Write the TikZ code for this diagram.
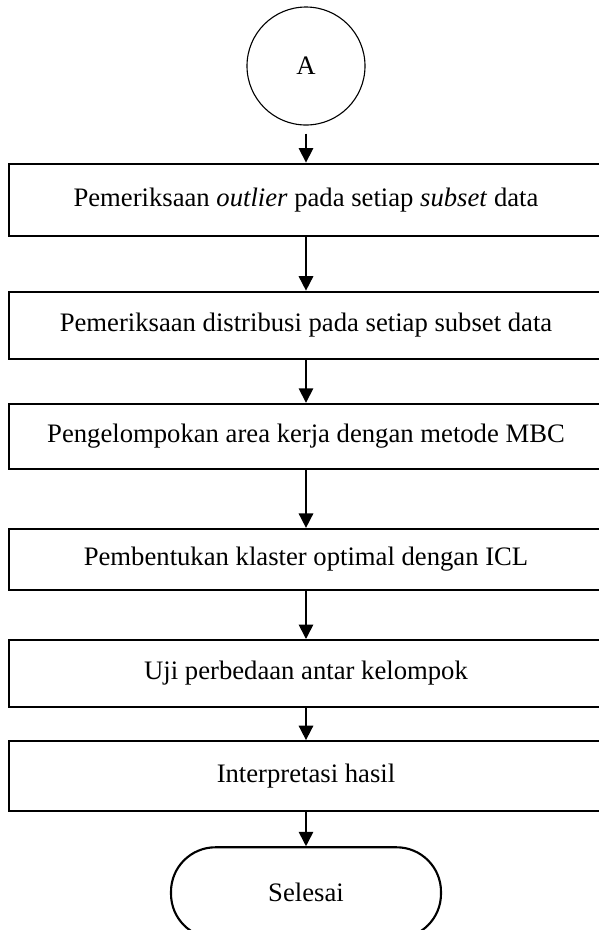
\documentclass[tikz,border=0pt]{standalone}
\usepackage{fontspec}
\setmainfont{Liberation Serif}
\usetikzlibrary{shapes.geometric, arrows.meta, positioning}

\begin{document}
\begin{tikzpicture}[node distance=18pt, font=\fontsize{12}{14}\selectfont]
    % Define styles
    \tikzstyle{connector} = [circle, minimum size=53.1pt, inner sep=0pt, draw=black, line width=0.5pt]
    \tikzstyle{process} = [rectangle, minimum width=267pt, text centered, draw=black, line width=0.95pt]
    \tikzstyle{terminal} = [rectangle, rounded corners=20pt, minimum width=121.5pt, minimum height=40.95pt, draw=black, line width=0.95pt]
    \tikzstyle{arrow} = [line width=0.75pt, -{Triangle[length=6.5pt,width=6.5pt]}]

    \useasboundingbox (0,0) rectangle (269.55pt,-418.5pt);

    % Nodes
    \node (conA) [connector] at (137.7pt,-29.7pt) {A};
    \node (outlier) [process, minimum height=32.4pt, below=16.65pt of conA] {Pemeriksaan \textit{outlier} pada setiap \textit{subset} data};
    \node (distribusi) [process, minimum height=30.15pt, below=24.3pt of outlier] {Pemeriksaan distribusi pada setiap subset data};
    \node (mbc) [process, minimum height=29.25pt, below=19.35pt of distribusi] {Pengelompokan area kerja dengan metode MBC};
    \node (icl) [process, minimum height=27.45pt, below=26.1pt of mbc] {Pembentukan klaster optimal dengan ICL};
    \node (uji) [process, minimum height=30.15pt, below=21.6pt of icl] {Uji perbedaan antar kelompok};
    \node (hasil) [process, minimum height=31.5pt, below=14.4pt of uji] {Interpretasi hasil};
    \node (selesai) [terminal, below=15.3pt of hasil] {Selesai};

    % Arrows
    \draw [arrow, shorten <=3.6pt] (conA) -- (outlier);
    \draw [arrow] (outlier) -- (distribusi);
    \draw [arrow] (distribusi) -- (mbc);
    \draw [arrow] (mbc) -- (icl);
    \draw [arrow] (icl) -- (uji);
    \draw [arrow] (uji) -- (hasil);
    \draw [arrow] (hasil) -- (selesai);
\end{tikzpicture}
\end{document}
